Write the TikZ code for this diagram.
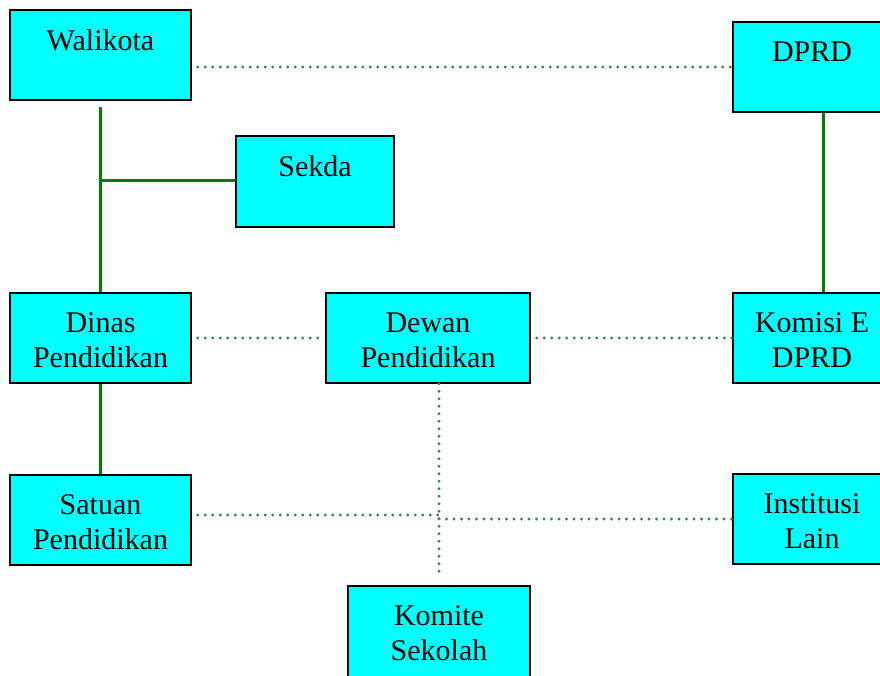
\documentclass[tikz,border=0pt]{standalone}
\usepackage{fontspec}
\setmainfont{Liberation Serif}
\definecolor{solidgreen}{RGB}{0,128,0}
\definecolor{dotgreen}{RGB}{46,139,87}
\definecolor{boxcyan}{RGB}{0,255,255}
\begin{document}
\begin{tikzpicture}[x=1pt,y=-1pt,
  box/.style={draw=black, line width=1.5pt, fill=boxcyan, inner sep=0pt, minimum height=90pt},
  lbl/.style={anchor=north, inner sep=0pt, align=center, font=\fontsize{30}{35}\selectfont},
  solidln/.style={draw=solidgreen, line width=3pt},
  dotln/.style={draw=dotgreen, line width=3.2pt, line cap=round, dash pattern=on 0pt off 7.5pt}]
\useasboundingbox (0,0) rectangle (880,675);
\clip (0,0) rectangle (880,675);
% boxes
\node[box, minimum width=181pt] (walikota) at (100.5,55) {};
\node[box, minimum width=158pt] (dprd) at (812,67) {};
\node[box, minimum width=158pt, minimum height=91pt] (sekda) at (315,181.5) {};
\node[box, minimum width=181pt] (dinas) at (100.5,338) {};
\node[box, minimum width=204pt] (dewan) at (428,338) {};
\node[box, minimum width=158pt] (komisi) at (812,338) {};
\node[box, minimum width=181pt] (satuan) at (100.5,520) {};
\node[box, minimum width=158pt] (institusi) at (812,519) {};
\node[box, minimum width=182pt, minimum height=100pt] (komite) at (439,636) {};
% labels
\node[lbl] (walikota-t) at (100.5,29.5) {Walikota};
\node[lbl] (dprd-t) at (812,41.5) {DPRD};
\node[lbl] (sekda-t) at (315,155.5) {Sekda};
\node[lbl] (dinas-t) at (100.5,312.5) {Dinas\\Pendidikan};
\node[lbl] (dewan-t) at (428,312.5) {Dewan\\Pendidikan};
\node[lbl] (komisi-t) at (812,312.5) {Komisi E\\DPRD};
\node[lbl] (satuan-t) at (100.5,494.5) {Satuan\\Pendidikan};
\node[lbl] (institusi-t) at (812,493.5) {Institusi\\Lain};
\node[lbl] (komite-t) at (439,605.5) {Komite\\Sekolah};
% solid connectors
\coordinate (jw) at (100.5,180);
\draw[solidln, shorten <=6pt] (walikota.south) -- (dinas.north);
\draw[solidln] (jw) -- (jw -| sekda.west);
\draw[solidln] ([xshift=11pt]dprd.south) -- ([xshift=11pt]komisi.north);
\draw[solidln] (dinas.south) -- (satuan.north);
% dotted connectors
\draw[dotln, shorten <=6pt] (walikota.east |- dprd.west) -- (dprd.west);
\draw[dotln, shorten <=6pt] (dinas.east) -- (dewan.west);
\draw[dotln, shorten <=6pt] (dewan.east) -- (komisi.west);
\draw[dotln, shorten >=7pt] (komite.north |- dewan.south) -- (komite.north);
\coordinate (jl) at (439,515);
\coordinate (jr) at (439,519);
\draw[dotln, shorten <=6pt] ([yshift=5pt]satuan.east) -- (jl);
\draw[dotln] (jr) -- (institusi.west);
\end{tikzpicture}
\end{document}
